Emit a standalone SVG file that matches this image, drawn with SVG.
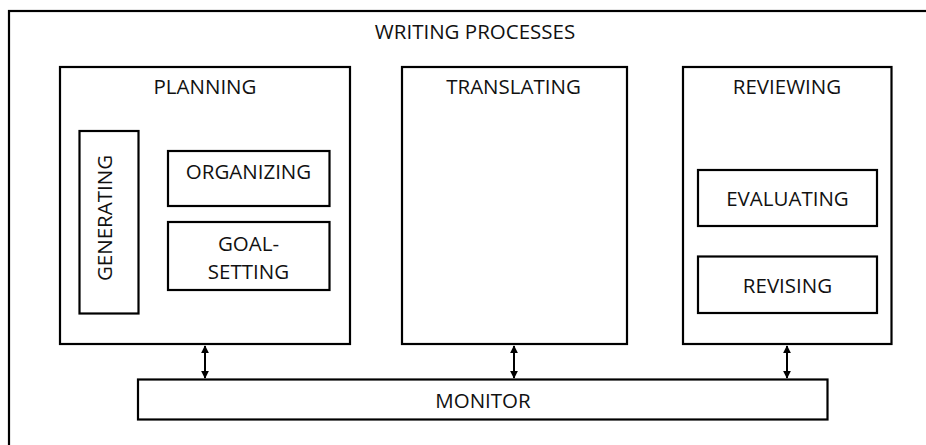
<svg xmlns="http://www.w3.org/2000/svg" width="926" height="445" viewBox="0 0 926 445">
  <style>
    .box { fill: #ffffff; stroke: #000000; stroke-width: 2.2; }
    .frame { fill: none; stroke: #000000; stroke-width: 2.2; }
    .lbl { font-family: "Open Sans", "Liberation Sans", sans-serif; font-size: 20.5px; fill: #111111; text-anchor: middle; }
    .link { stroke: #000000; stroke-width: 2; fill: none; marker-start: url(#head); marker-end: url(#head); }
  </style>
  <defs>
    <marker id="head" viewBox="0 0 10 10" refX="9" refY="5" markerWidth="4" markerHeight="4.5" orient="auto-start-reverse" markerUnits="strokeWidth">
      <path d="M0,0 L10,5 L0,10 z" fill="#000000"/>
    </marker>
  </defs>

  <!-- outer frame -->
  <g id="writing-processes">
    <rect class="frame" x="9" y="11" width="940" height="460"/>
    <text class="lbl" x="475" y="39">WRITING PROCESSES</text>
  </g>

  <!-- planning -->
  <g id="planning">
    <rect class="box" x="60" y="67" width="290" height="277"/>
    <text class="lbl" x="205" y="94">PLANNING</text>
  </g>
  <g id="generating">
    <rect class="box" x="79.5" y="131" width="59" height="182.5"/>
    <text class="lbl" transform="translate(112,218) rotate(-90)" x="0" y="0">GENERATING</text>
  </g>
  <g id="organizing">
    <rect class="box" x="168" y="151" width="161.5" height="55"/>
    <text class="lbl" x="248.5" y="179">ORGANIZING</text>
  </g>
  <g id="goal-setting">
    <rect class="box" x="168" y="222" width="161.5" height="68"/>
    <text class="lbl" x="248.5" y="250.5">GOAL-</text>
    <text class="lbl" x="248.5" y="279">SETTING</text>
  </g>

  <!-- translating -->
  <g id="translating">
    <rect class="box" x="402" y="67" width="225" height="277"/>
    <text class="lbl" x="513.5" y="93.5">TRANSLATING</text>
  </g>

  <!-- reviewing -->
  <g id="reviewing">
    <rect class="box" x="683" y="67" width="208.5" height="277"/>
    <text class="lbl" x="787" y="94">REVIEWING</text>
  </g>
  <g id="evaluating">
    <rect class="box" x="698" y="170" width="179" height="56"/>
    <text class="lbl" x="787.5" y="205.5">EVALUATING</text>
  </g>
  <g id="revising">
    <rect class="box" x="698" y="256.5" width="179" height="56.5"/>
    <text class="lbl" x="787.5" y="293">REVISING</text>
  </g>

  <!-- monitor -->
  <g id="monitor">
    <rect class="box" x="138" y="379.5" width="689.5" height="40"/>
    <text class="lbl" x="483" y="407.5">MONITOR</text>
  </g>

  <!-- two-way links between each process and the monitor -->
  <g id="connectors">
    <line class="link" x1="205" y1="346" x2="205" y2="378"/>
    <line class="link" x1="514" y1="346" x2="514" y2="378"/>
    <line class="link" x1="787" y1="346" x2="787" y2="378"/>
  </g>
</svg>
